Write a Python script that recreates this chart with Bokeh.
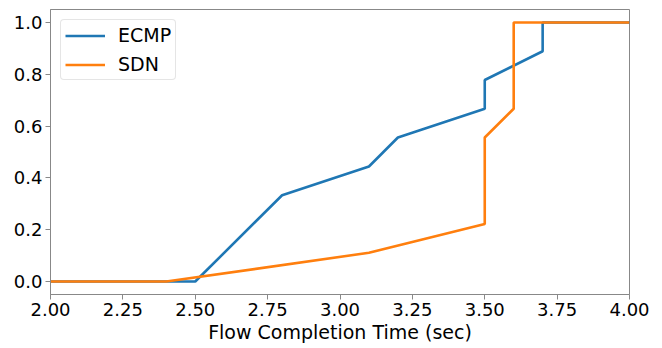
from bokeh.plotting import figure
from bokeh.models import FixedTicker, PrintfTickFormatter, Range1d, Legend, LegendItem
from bokeh.embed import file_html
from bokeh.resources import INLINE

ecmp_x = [2.0, 2.4, 2.5, 2.8, 3.1, 3.2, 3.5, 3.5, 3.7, 3.7, 4.0]
ecmp_y = [0.0, 0.0, 0.0, 0.333, 0.444, 0.556, 0.667, 0.778, 0.889, 1.0, 1.0]
sdn_x = [2.0, 2.4, 3.1, 3.5, 3.5, 3.6, 3.6, 4.0]
sdn_y = [0.0, 0.0, 0.111, 0.222, 0.556, 0.667, 1.0, 1.0]
x_ticks = [2.0, 2.25, 2.5, 2.75, 3.0, 3.25, 3.5, 3.75, 4.0]
y_ticks = [0.0, 0.2, 0.4, 0.6, 0.8, 1.0]

FONT = "DejaVu Sans"
AX = "#888888"

p = figure(width=662, height=348, output_backend="svg", toolbar_location=None,
           x_range=Range1d(2.0, 4.0), y_range=Range1d(-0.05, 1.05),
           min_border_left=50, min_border_right=33, min_border_top=9, min_border_bottom=54)
p.outline_line_color = AX
p.outline_line_width = 1
p.xgrid.visible = False
p.ygrid.visible = False

r1 = p.line(ecmp_x, ecmp_y, line_color="#1f77b4", line_width=2.6)
r2 = p.line(sdn_x, sdn_y, line_color="#ff7f0e", line_width=2.6)

for ax in (p.xaxis[0], p.yaxis[0]):
    ax.axis_line_color = AX
    ax.major_tick_line_color = AX
    ax.major_tick_out = 5
    ax.major_tick_in = 0
    ax.minor_tick_line_color = None
    ax.major_label_text_font = FONT
    ax.major_label_text_font_size = "18px"
    ax.major_label_text_color = "#000000"
    ax.major_label_standoff = 3

p.xaxis.ticker = FixedTicker(ticks=x_ticks)
p.yaxis.ticker = FixedTicker(ticks=y_ticks)
p.xaxis.formatter = PrintfTickFormatter(format="%.2f")
p.yaxis.formatter = PrintfTickFormatter(format="%.1f")
p.xaxis.axis_label = "Flow Completion Time (sec)"
p.xaxis.axis_label_text_font = FONT
p.xaxis.axis_label_text_font_size = "19px"
p.xaxis.axis_label_text_font_style = "normal"
p.xaxis.axis_label_text_color = "#000000"
p.xaxis.axis_label_standoff = 2

legend = Legend(items=[LegendItem(label="ECMP", renderers=[r1]),
                       LegendItem(label="SDN", renderers=[r2])],
                location="top_left")
legend.label_text_font = FONT
legend.label_text_font_size = "19px"
legend.label_text_color = "#000000"
legend.glyph_width = 40
legend.glyph_height = 21
legend.label_height = 21
legend.spacing = 7
legend.padding = 4
legend.margin = 10
legend.label_standoff = 13
legend.border_line_color = "#cccccc"
legend.border_line_width = 1
legend.background_fill_alpha = 0.8
legend.border_radius = 4
p.add_layout(legend)

open("out.html", "w").write(file_html(p, INLINE))
